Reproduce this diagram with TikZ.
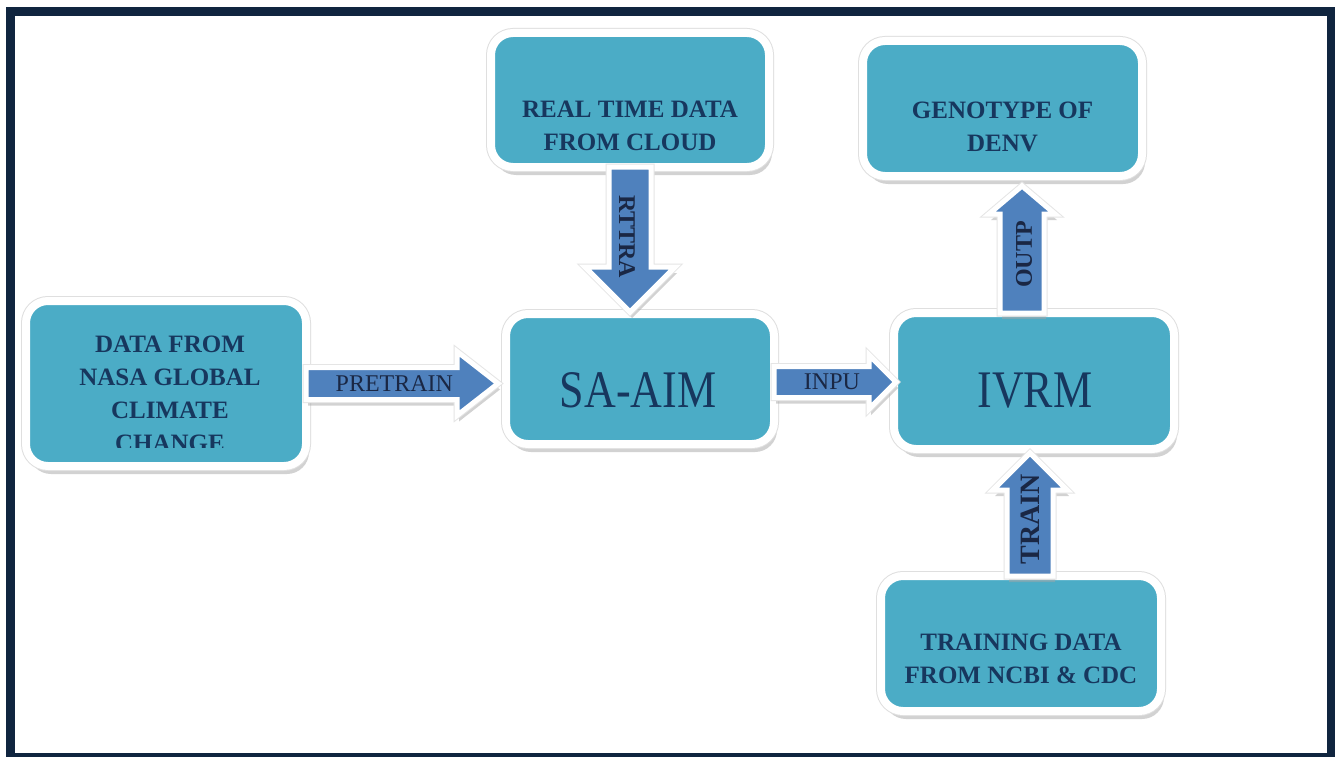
\documentclass[tikz,border=0pt]{standalone}
\usepackage{fontspec}
\setmainfont{Liberation Serif}
\usepackage{tikz}
\usetikzlibrary{calc, shadows}

\definecolor{boxteal}{HTML}{4BACC6}
\definecolor{arrowblue}{HTML}{4F81BD}
\definecolor{textnavy}{HTML}{17375E}
\definecolor{labelnavy}{HTML}{1A2744}
\definecolor{framenavy}{HTML}{10253F}

% block arrow: start, end, shaft half width, head half width, head length, name
\newcommand{\blockarrow}[6]{%
  \coordinate (#6-h) at ($(#2)!#5!(#1)$);
  \draw[arrowbody] ($(#1)!#3!90:(#2)$) -- ($(#6-h)!#3!90:(#2)$) -- ($(#6-h)!#4!90:(#2)$) -- (#2)
    -- ($(#6-h)!#4!-90:(#2)$) -- ($(#6-h)!#3!-90:(#2)$) -- ($(#1)!#3!-90:(#2)$) -- cycle;
}

\begin{document}
\begin{tikzpicture}[x=1pt, y=-1pt,
  box/.style={rectangle, rounded corners=22pt, fill=boxteal, draw=white, line width=8pt,
    outer sep=0pt, inner sep=0pt, drop shadow={shadow xshift=3pt, shadow yshift=-8pt, fill=gray!70},
    preaction={draw=gray!25, line width=10pt}},
  arrowbody/.style={fill=arrowblue, draw=white, line width=5pt, line join=miter,
    drop shadow={shadow xshift=2pt, shadow yshift=-6pt, fill=gray!70},
    preaction={draw=gray!20, line width=7pt}},
  boxtext/.style={font=\bfseries\fontsize{25}{33}\selectfont, text=textnavy, align=center, inner sep=0pt},
  bigtext/.style={font=\fontsize{44}{50}\selectfont, text=textnavy, inner sep=0pt},
  arrowlabel/.style={font=\fontsize{24}{28}\selectfont, text=labelnavy, inner sep=0pt},
  vlabel/.style={font=\bfseries\fontsize{24}{28}\selectfont, text=labelnavy, inner sep=0pt}]
  \useasboundingbox (0,0) rectangle (1335,757);
  \fill[white] (0,0) rectangle (1335,757);
  \draw[framenavy, line width=9pt] (10.5,11.5) rectangle (1331,757.5);

  % boxes
  \node[box, minimum width=280pt, minimum height=165pt] (nasa) at (166,383.5) {};
  \node[box, minimum width=278pt, minimum height=134pt] (rtd) at (630,100) {};
  \node[box, minimum width=268pt, minimum height=130pt] (saaim) at (640,379) {};
  \node[box, minimum width=279pt, minimum height=135pt] (geno) at (1002.5,108.5) {};
  \node[box, minimum width=280pt, minimum height=136pt] (ivrm) at (1034,381) {};
  \node[box, minimum width=280pt, minimum height=135pt] (train) at (1021,643.5) {};

  \begin{scope}
    \clip (nasa.north west) rectangle ($(nasa.south east)+(0,-19)$);
    \node[boxtext] (nasa-t) at ($(nasa.center)+(4,10)$) {DATA FROM\\NASA GLOBAL\\CLIMATE\\CHANGE};
  \end{scope}
  \node[boxtext] (rtd-t) at ($(rtd.center)+(0,26)$) {REAL TIME DATA\\FROM CLOUD};
  \node[bigtext] (saaim-t) at ($(saaim.center)+(-2,11)$) {\scalebox{1}[1.2]{SA-AIM}};
  \node[boxtext] (geno-t) at ($(geno.center)+(0,18)$) {GENOTYPE OF\\DENV};
  \node[bigtext] (ivrm-t) at ($(ivrm.center)+(1,10)$) {\scalebox{1}[1.2]{IVRM}};
  \node[boxtext] (train-t) at ($(train.center)+(0,15)$) {TRAINING DATA\\FROM NCBI \& CDC};

  % arrows
  \coordinate (pt-s) at (nasa.east);
  \coordinate (pt-e) at ($(saaim.west |- nasa.east)+(-8,0)$);
  \blockarrow{pt-s}{pt-e}{16pt}{32pt}{41pt}{pt}
  \coordinate (rt-s) at (rtd.south);
  \coordinate (rt-e) at ($(rtd.south |- saaim.north)+(0,-2)$);
  \blockarrow{rt-s}{rt-e}{21pt}{45pt}{45pt}{rt}
  \coordinate (in-s) at ($(saaim.east)+(0,3)$);
  \coordinate (in-e) at ($(ivrm.west |- saaim.east)+(2,3)$);
  \blockarrow{in-s}{in-e}{15.5pt}{27pt}{27pt}{in}
  \coordinate (out-s) at ($(ivrm.north)+(-12,0)$);
  \coordinate (out-e) at ($(geno.south -| ivrm.north)+(-12,10)$);
  \blockarrow{out-s}{out-e}{22pt}{33pt}{28pt}{out}
  \coordinate (tr-s) at ($(train.north)+(9,0)$);
  \coordinate (tr-e) at ($(ivrm.south -| train.north)+(9,4)$);
  \blockarrow{tr-s}{tr-e}{23pt}{37pt}{37pt}{tr}

  % arrow labels
  \node[arrowlabel] (pt-l) at ($(pt-s)!0.46!(pt-e)$) {PRETRAIN};
  \node[vlabel, rotate=-90] (rt-l) at ($(rt-s)!0.48!(rt-e)+(-3,0)$) {RTTRA};
  \node[arrowlabel] (in-l) at ($(in-s)!0.475!(in-e)$) {INPU};
  \node[vlabel, rotate=90] (out-l) at ($(out-s)!0.46!(out-e)+(2,0)$) {OUTP};
  \node[vlabel, rotate=90, font=\bfseries\fontsize{28}{30}\selectfont] (tr-l) at ($(tr-s)!0.46!(tr-e)$) {TRAIN};
\end{tikzpicture}
\end{document}
